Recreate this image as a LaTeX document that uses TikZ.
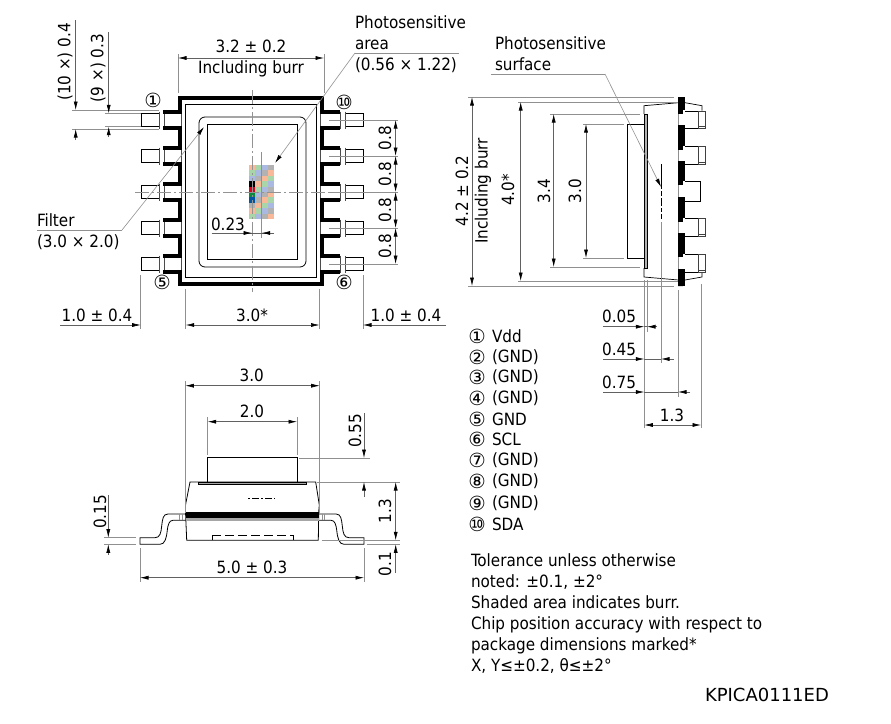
\documentclass[tikz,border=0pt]{standalone}
\usepackage{fontspec}
\setmainfont{DejaVu Sans Condensed}
\newfontfamily\circfont{DejaVu Sans}
\usetikzlibrary{arrows.meta}
\definecolor{dimgray}{gray}{0.38}
\definecolor{cella}{HTML}{A9D6A9}
\definecolor{cellb}{HTML}{A9B9E2}
\definecolor{cellc}{HTML}{B2B2B2}
\definecolor{celld}{HTML}{F9B999}
\definecolor{darka}{HTML}{0A8A3C}
\definecolor{darkb}{HTML}{0055A5}
\definecolor{darkc}{HTML}{000000}
\definecolor{darkd}{HTML}{E0001B}
\newcommand{\circlabel}[1]{{\circfont\fontsize{19.5}{19.5}\selectfont #1}}
\tikzstyle{dimline}=[draw=dimgray, line width=0.6pt]
\tikzstyle{guide}=[draw=dimgray!70, line width=0.6pt]
\tikzstyle{collar}=[draw=black!70, line width=0.8pt]
\tikzstyle{part}=[draw=black, line width=0.8pt]
\tikzstyle{outline}=[draw=black, line width=3.6pt, line join=miter]
\tikzstyle{centerline}=[draw=gray!85, line width=0.6pt, dash pattern=on 14pt off 3pt on 2pt off 3pt]
\tikzstyle{label}=[inner sep=0, outer sep=0, font=\fontsize{16.9}{21}\selectfont]
\tikzstyle{drawing}=[x=1pt, y=-1pt, >={Latex[length=8.5pt,width=4pt,color=black]}, every node/.style={label}]
\newcommand{\frontlead}{
    \draw[part] (185.5,514) -- (168,514) .. controls (163,514) and (162.5,519) .. (161.7,526)
        .. controls (161,533) and (160,537.7) .. (155,537.7) -- (140,537.7) -- (140,544.3) -- (160,544.3)
        .. controls (165,544.3) and (166.5,538) .. (167.3,530) .. controls (168,525) and (169,520.3) .. (173,520.3) -- (185.5,520.3);
    \draw[guide] (179.5,514) -- (179.5,520.3) (182,514) -- (182,520.3);
}
\begin{document}
\begin{tikzpicture}[drawing]
    \useasboundingbox (0,0) rectangle (891,723);
    % top view: chip
    \foreach \r in {0,...,9} {
        \foreach \c in {0,...,3} {
            \pgfmathtruncatemacro{\idx}{mod(\r+\c,4)}
            \pgfmathtruncatemacro{\isdark}{and(\c==0,and(\r>2,\r<7))}
            \ifnum\isdark=1
                \fill[dark\ifcase\idx d\or a\or b\or c\fi] (249+6.25*\c,165+5.4*\r) rectangle +(6.25,5.4);
            \else
                \fill[cell\ifcase\idx d\or a\or b\or c\fi] (249+6.25*\c,165+5.4*\r) rectangle +(6.25,5.4);
            \fi
        }
    }
    % top view: body
    \draw[part] (185.5,104) rectangle (316.5,277.5);
    \draw[part, rounded corners=6pt] (199,117) rectangle (306,267);
    \draw[part] (207,124.5) rectangle (297,259);
    \foreach \y in {120,156,192,228,264} {
        \draw[part] (159,\y-6.5) -- (141,\y-6.5) -- (141,\y+6.5) -- (159,\y+6.5);
        \draw[part] (345,\y-6.5) -- (363,\y-6.5) -- (363,\y+6.5) -- (345,\y+6.5);
        \draw[collar] (159,\y-8.5) -- (159,\y+8.5) (164,\y-8.5) -- (164,\y+8.5) (181.5,\y-7) -- (181.5,\y+7);
        \draw[collar] (340,\y-8.5) -- (340,\y+8.5) (345,\y-8.5) -- (345,\y+8.5) (320.5,\y-7) -- (320.5,\y+7);
        \draw[guide] (329,\y) -- (398,\y);
    }
    \draw[outline] (163,112) -- (180,112) -- (180,98) -- (322,98) -- (322,112) -- (340,112);
    \draw[outline] (163,272) -- (180,272) -- (180,284) -- (322,284) -- (322,272) -- (340,272);
    \foreach \y/\ynext in {120/156,156/192,192/228,228/264} {
        \draw[outline] (163,\y+8) -- (180,\y+8) -- (180,\ynext-8) -- (163,\ynext-8);
        \draw[outline] (340,\y+8) -- (322,\y+8) -- (322,\ynext-8) -- (340,\ynext-8);
    }
    \draw[centerline] (252,90) -- (252,292);
    \draw[centerline] (135,192) -- (345,192);
    \draw[guide] (261.7,152) -- (261.7,238);
    \node (pinone) at (153,100) {\circlabel{①}};
    \node (pinten) at (344,102) {\circlabel{⑩}};
    \node (pinfive) at (162,282) {\circlabel{⑤}};
    \node (pinsix) at (344,282) {\circlabel{⑥}};
    % top view: dimensions
    \draw[guide] (72,110) -- (159,110) (72,129) -- (159,129) (105,113.3) -- (141,113.3) (105,126.7) -- (141,126.7);
    \draw[dimline, ->] (75.7,20) -- (75.7,110);
    \draw[dimline, ->] (75.7,140) -- (75.7,129);
    \draw[dimline, ->] (108.7,32) -- (108.7,113.3);
    \draw[dimline, ->] (108.7,137) -- (108.7,126.7);
    \node[rotate=90] (leadwidth) at (65,62) {(10 ×) 0.4};
    \node[rotate=90] (padwidth) at (98,68) {(9 ×) 0.3};
    \draw[guide] (178,54) -- (178,93) (324,54) -- (324,93);
    \draw[dimline, <->] (178,58) -- (324,58);
    \node (bodywidth) at (251,46) {3.2 ± 0.2};
    \node (bodyburr) at (251,68.5) {Including burr};
    \foreach \y/\ynext in {120/156,156/192,192/228,228/264} {
        \draw[dimline, <->] (395.6,\y) -- (395.6,\ynext);
        \node[rotate=90] (pitch\y) at (385,\y/2+\ynext/2) {0.8};
    }
    \draw[dimline] (211.7,233) -- (274,233);
    \draw[dimline, ->] (240,233) -- (252,233);
    \draw[dimline, ->] (274,233) -- (261.7,233);
    \node (chipoffset) at (228,224) {0.23};
    \draw[guide] (140.7,275) -- (140.7,329) (185.7,289) -- (185.7,329) (319.5,289) -- (319.5,329) (363,275) -- (363,329);
    \draw[dimline, ->] (60,325) -- (140.7,325);
    \draw[dimline, <->] (185.7,325) -- (319.5,325);
    \draw[dimline, ->] (446,325) -- (363,325);
    \node (leftlead) at (97,315) {1.0 ± 0.4};
    \node (chipwidth) at (252,315) {3.0*};
    \node (rightlead) at (406,315) {1.0 ± 0.4};
    % top view: leaders
    \node[anchor=north west, align=left] (sensearea) at (355,15.5) {Photosensitive\\area\\(0.56 × 1.22)};
    \coordinate (senseknee) at (355,53);
    \coordinate (sensetip) at (275,163);
    \draw[guide] (459,53) -- (senseknee);
    \draw[guide, ->] (senseknee) -- (sensetip);
    \node[anchor=north west, align=left] (filterlabel) at (37,213.5) {Filter\\(3.0 × 2.0)};
    \coordinate (filterknee) at (122,230);
    \coordinate (filtertip) at (204,127);
    \draw[guide] (37,230) -- (filterknee);
    \draw[guide, ->] (filterknee) -- (filtertip);
    % side view
    \draw[part] (627,124) rectangle (644,258);
    \draw[part, fill=gray!60] (644,114) rectangle (647,268);
    \draw[part, line width=0.7pt] (644,114) -- (644,105.7) -- (678.5,102.7) (644,268) -- (644,277) -- (678.5,280);
    \draw[part, line width=0.7pt] (685,102.7) -- (702,105.7) -- (702,110.7) (685,280) -- (702,277) -- (702,272);
    \draw[guide] (678.5,97) -- (678.5,286);
    \foreach \top/\bot/\narrow in {97/110/114,125/146/150,161/181/185,197/218/222,233/254/257,269/286/286} {
        \fill[black] (678.3,\top) rectangle (685,\bot);
        \fill[black] (678.3,\bot) rectangle (683,\narrow);
    }
    \foreach \y in {111,146.5,218.5,254.5} {
        \draw[part] (685,\y) -- (702,\y) (685,\y+17.5) -- (702,\y+17.5);
        \draw[part, draw=black!75] (698,\y) rectangle (705.7,\y+17.5);
        \draw[part, draw=black!75] (698,\y+15.5) -- (705.7,\y+15.5);
    }
    \draw[part] (685,181.5) -- (700,181.5) -- (700,201) -- (685,201);
    \draw[part, dash pattern=on 25pt off 2pt on 5pt off 2pt on 8pt off 2pt on 4pt off 2pt on 5pt] (661,164) -- (661,220);
    % side view: dimensions
    \draw[guide] (468,97) -- (674,97) (468,286) -- (674,286) (518,102) -- (678,102) (518,281) -- (678,281);
    \draw[guide] (550,114) -- (640,114) (550,267) -- (640,267) (583,124) -- (624,124) (583,258) -- (624,258);
    \draw[dimline, <->] (472,97) -- (472,286);
    \draw[dimline, <->] (520.7,102) -- (520.7,281);
    \draw[dimline, <->] (553.7,114) -- (553.7,267);
    \draw[dimline, <->] (586,124) -- (586,258);
    \node[rotate=90] (sideheight) at (462,191) {4.2 ± 0.2};
    \node[rotate=90] (sideburr) at (483,191) {Including burr};
    \node[rotate=90] (sidestar) at (508,190) {4.0*};
    \node[rotate=90] (sideinner) at (544,191) {3.4};
    \node[rotate=90] (sideglass) at (575,191) {3.0};
    \node[anchor=north west, align=left] (surfacelabel) at (495,36.5) {Photosensitive\\surface};
    \coordinate (surfaceknee) at (605,74);
    \coordinate (surfacetip) at (661,187);
    \draw[guide] (491,74) -- (surfaceknee);
    \draw[guide, ->] (surfaceknee) -- (surfacetip);
    \draw[guide] (644.3,280) -- (644.3,428) (647,280) -- (647,332) (661,222) -- (661,363) (678,290) -- (678,397) (701,284) -- (701,428);
    \foreach \y/\xtip/\xend/\txt in {326.7/647/657/0.05,359/661/674/0.45,392/678/690/0.75} {
        \draw[dimline, ->] (603,\y) -- (644.3,\y);
        \draw[dimline, ->] (\xend,\y) -- (\xtip,\y);
        \draw[dimline] (644.3,\y) -- (\xtip,\y);
        \node (depth\txt) at (619,\y-10) {\txt};
    }
    \draw[dimline, <->] (644.3,425) -- (701,425);
    \node (sidedepth) at (672,415) {1.3};
    % front view
    \frontlead
    \begin{scope}[xshift=504pt, xscale=-1]
        \frontlead
    \end{scope}
    \draw[part] (207.7,482) -- (207.7,457.7) -- (297,457.7) -- (297,482);
    \draw[part, fill=gray!70] (198,482) rectangle (306.7,484.7);
    \draw[part] (190,482) -- (315.7,482) -- (319.3,505) -- (318.7,512) -- (318.3,540.3) -- (186.7,540.3) -- (185.5,512) -- (185.5,505) -- cycle;
    \fill[black] (185.5,512) rectangle (318.7,518);
    \fill[gray!70] (185.5,518) rectangle (318.7,520.7);
    \draw[part, line width=0.7pt] (212.3,540.3) -- (212.3,535) (293.3,535) -- (293.3,540.3);
    \draw[part, line width=0.7pt, dash pattern=on 9pt off 4pt] (212.3,535) -- (293.3,535);
    \draw[part, line width=0.7pt, dash pattern=on 2pt off 2pt on 7pt off 2pt] (248,498.3) -- (275,498.3);
    % front view: dimensions
    \draw[guide] (185.3,381) -- (185.3,513) (319.7,381) -- (319.7,513) (207.7,417) -- (207.7,455) (297,417) -- (297,455);
    \draw[guide] (140,548) -- (140,582) (364,548) -- (364,582);
    \draw[guide] (299,458) -- (370,458) (317,482) -- (400,482) (321.7,540.3) -- (400,540.3) (366.7,544.3) -- (400,544.3) (104,537.7) -- (136,537.7) (104,544.3) -- (136,544.3);
    \draw[dimline, <->] (185.3,385.7) -- (319.7,385.7);
    \draw[dimline, <->] (207.7,421.7) -- (297,421.7);
    \draw[dimline, <->] (140,577.7) -- (364,577.7);
    \draw[dimline, ->] (364,413) -- (364,458);
    \draw[dimline, ->] (364,496.7) -- (364,482);
    \draw[dimline, <->] (395.7,482) -- (395.7,540.3);
    \draw[dimline, ->] (395.7,573) -- (395.7,544.3);
    \draw[dimline, ->] (108.3,495) -- (108.3,537.7);
    \draw[dimline, ->] (108.3,555) -- (108.3,544.3);
    \node (frontbody) at (251.7,375) {3.0};
    \node (frontchip) at (252,411) {2.0};
    \node (frontlength) at (252,567) {5.0 ± 0.3};
    \node[rotate=90] (frontthick) at (100,512) {0.15};
    \node[rotate=90] (frontglass) at (355,431) {0.55};
    \node[rotate=90] (frontheight) at (385,511) {1.3};
    \node[rotate=90] (frontgap) at (385,564) {0.1};
    % pin list
    \foreach \n/\y/\sym/\txt in {1/336/①/Vdd,2/357/②/(GND),3/377/③/(GND),4/398/④/(GND),5/419/⑤/GND,6/439/⑥/SCL,7/460/⑦/(GND),8/481/⑧/(GND),9/503/⑨/(GND),10/524/⑩/SDA} {
        \node (sym\n) at (477,\y) {\circlabel{\sym}};
        \node[anchor=west] (pin\n) at (492,\y) {\txt};
    }
    % notes
    \node[anchor=north west, align=left] (notes) at (471,553.5) {Tolerance unless otherwise\\noted: ±0.1, ±2°\\Shaded area indicates burr.\\Chip position accuracy with respect to\\package dimensions marked*\\X, Y≤±0.2, θ≤±2°};
    \node[anchor=west, font=\circfont\fontsize{18}{18}\selectfont] (docnumber) at (705,695) {KPICA0111ED};
\end{tikzpicture}
\end{document}
